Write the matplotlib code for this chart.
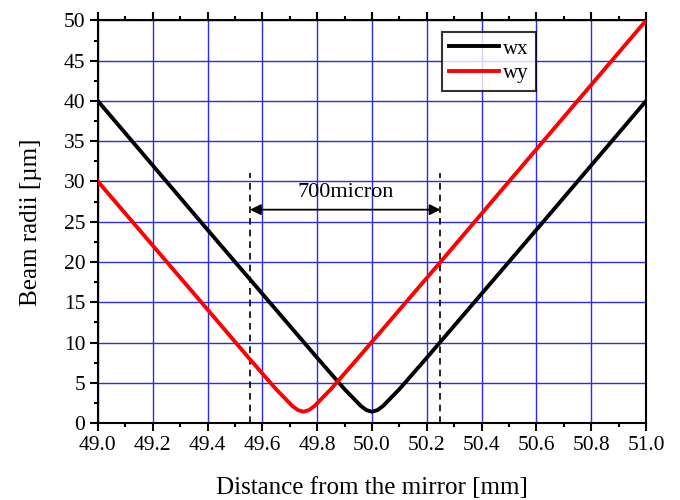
import matplotlib
matplotlib.use('Agg')
import matplotlib.pyplot as plt
from matplotlib.ticker import MultipleLocator

# values
wx_z = [49.0, 49.4, 49.8, 49.9, 49.94, 49.96, 49.98, 50.0, 50.02, 50.04, 50.06, 50.1, 50.2, 50.6, 51.0]
wx = [40.0, 24.0, 8.1, 4.2, 2.8, 2.1, 1.6, 1.4, 1.6, 2.1, 2.8, 4.2, 8.1, 24.0, 40.0]
wy_z = [49.0, 49.4, 49.55, 49.65, 49.69, 49.71, 49.73, 49.75, 49.77, 49.79, 49.81, 49.85, 49.95, 50.25, 51.0]
wy = [30.0, 14.1, 8.1, 4.2, 2.8, 2.1, 1.6, 1.4, 1.6, 2.1, 2.8, 4.2, 8.1, 20.0, 50.0]
marks = [49.555, 50.25]
mark_top = 31
arrow_y = 26.5
arrow_text = '700micron'

plt.rcParams['font.family'] = ['Liberation Serif', 'DejaVu Serif']

fig = plt.figure(figsize=(6.8, 5), dpi=100)
ax = fig.add_axes([0.144, 0.154, 0.806, 0.805])

ax.plot(wx_z, wx, color='black', lw=2.8, label='wx', zorder=3)
ax.plot(wy_z, wy, color='red', lw=2.8, label='wy', zorder=3)

for m in marks:
    ax.plot([m, m], [0, mark_top], color='black', lw=1.2, ls=(0, (4, 3)), zorder=2)
ax.annotate('', xy=(marks[0], arrow_y), xytext=(marks[1], arrow_y),
            arrowprops=dict(arrowstyle='<|-|>', color='black', lw=1.3, mutation_scale=16,
                            shrinkA=0, shrinkB=0))
ax.text(sum(marks) / 2, arrow_y + 1.0, arrow_text, ha='center', va='bottom', fontsize=16)

ax.set_xlim(49.0, 51.0)
ax.set_ylim(0, 50)
ax.xaxis.set_major_locator(MultipleLocator(0.2))
ax.xaxis.set_minor_locator(MultipleLocator(0.1))
ax.yaxis.set_major_locator(MultipleLocator(5))
ax.yaxis.set_minor_locator(MultipleLocator(2.5))
ax.xaxis.set_major_formatter(plt.FormatStrFormatter('%.1f'))
ax.grid(True, which='major', color='#2a2aee', lw=1, zorder=0)
ax.set_axisbelow(True)

ax.tick_params(which='both', direction='out', top=True, right=False, width=1.5, labelsize=15.5)
ax.tick_params(which='major', length=6, pad=3)
ax.tick_params(which='minor', length=3)
for s in ax.spines.values():
    s.set_linewidth(1.5)

ax.set_xlabel('Distance from the mirror [mm]', fontsize=18, labelpad=16)
ax.set_ylabel('Beam radii [µm]', fontsize=18, labelpad=16)

leg = ax.legend(loc='upper right', bbox_to_anchor=(0.80, 0.972), borderaxespad=0, fontsize=15,
                frameon=True, fancybox=False, edgecolor='black', handlelength=2.4,
                handletextpad=0.2, borderpad=0.35, labelspacing=0.25)
leg.get_frame().set_linewidth(1.5)

fig.savefig('out.png', dpi=100)
